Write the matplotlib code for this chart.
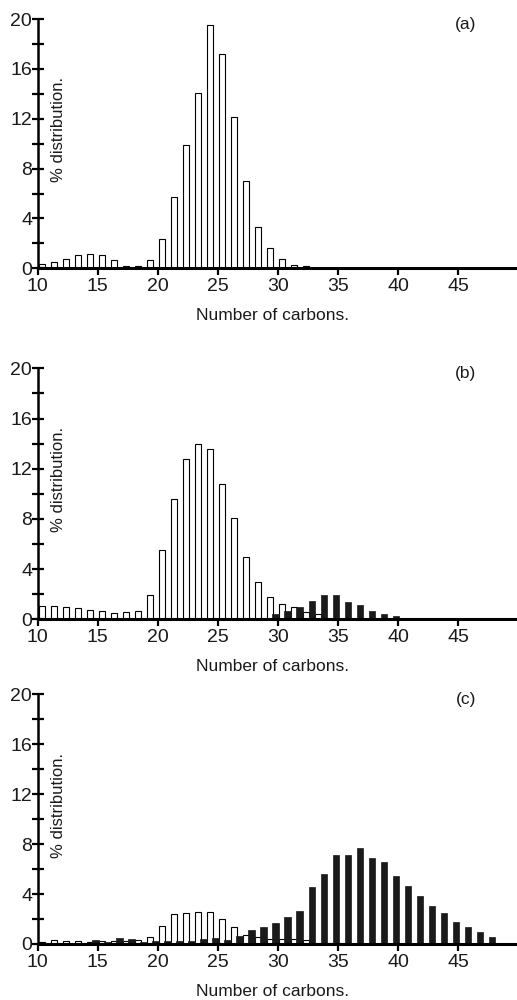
import numpy as np
import matplotlib
matplotlib.use('Agg')
import matplotlib.pyplot as plt

plt.rcParams['font.family'] = ['Liberation Sans', 'DejaVu Sans']

# carbon numbers C10 .. C48
carbons = np.arange(10, 49)

# panel (a), white bars only
white_a = [0.37, 0.53, 0.72, 1.04, 1.12, 1.10, 0.67, 0.19, 0.21, 0.64,
           2.33, 5.7, 9.9, 14.1, 19.5, 17.2, 12.1, 7.0, 3.35, 1.63,
           0.72, 0.29, 0.18, 0.05, 0.04, 0, 0, 0, 0, 0,
           0, 0, 0, 0, 0, 0, 0, 0, 0]
black_a = [0] * 39

# panel (b)
white_b = [1.06, 1.04, 0.98, 0.93, 0.72, 0.64, 0.48, 0.56, 0.66, 1.94,
           5.5, 9.6, 12.75, 13.97, 13.57, 10.78, 8.1, 5.0, 2.97, 1.77,
           1.25, 0.98, 0.58, 0.4, 0, 0, 0, 0, 0, 0,
           0, 0, 0, 0, 0, 0, 0, 0, 0]
black_b = [0, 0, 0, 0, 0, 0, 0, 0, 0, 0,
           0, 0, 0, 0, 0, 0, 0, 0, 0, 0,
           0.45, 0.64, 0.98, 1.45, 1.95, 1.95, 1.4, 1.1, 0.68, 0.42,
           0.24, 0, 0, 0, 0, 0, 0, 0, 0]

# panel (c)
white_c = [0.19, 0.35, 0.24, 0.24, 0.18, 0.22, 0.24, 0.25, 0.35, 0.6,
           1.47, 2.38, 2.51, 2.59, 2.54, 1.98, 1.39, 0.69, 0.59, 0.37,
           0.37, 0.42, 0.3, 0.12, 0.1, 0.08, 0, 0, 0, 0,
           0, 0, 0, 0, 0, 0, 0, 0, 0]
black_c = [0.1, 0.1, 0.1, 0.1, 0.12, 0.32, 0.2, 0.5, 0.37, 0.19,
           0.27, 0.21, 0.27, 0.24, 0.4, 0.48, 0.29, 0.67, 1.15, 1.39,
           1.66, 2.14, 2.64, 4.54, 5.58, 7.13, 7.13, 7.66, 6.92, 6.54,
           5.45, 4.65, 3.87, 3.04, 2.46, 1.76, 1.34, 0.93, 0.53]

panel_labels = ['(a)', '(b)', '(c)']
x_ticks = [10, 15, 20, 25, 30, 35, 40, 45]
y_ticks = [0, 4, 8, 12, 16, 20]
y_minor = [2, 6, 10, 14, 18]

text_col = '#1a1a1a'


def plot_panel(ax, white, black, label, h_px):
	white = np.array(white, dtype=float)
	black = np.array(black, dtype=float)

	# white bar sits just right of the carbon number, black bar just left
	mw = white > 0
	ax.bar(carbons[mw] + 0.33, white[mw], 0.52, color='white', edgecolor='black', linewidth=0.8, zorder=1)
	mb = black > 0
	ax.bar(carbons[mb] - 0.2, black[mb], 0.55, color='#1a1a1a', edgecolor='#1a1a1a', linewidth=0.5, zorder=1)

	ax.set_xlim(10, 49.7)
	ax.set_ylim(0, 20)

	for side in ['top', 'right']:
		ax.spines[side].set_visible(False)
	ax.spines['left'].set_linewidth(1.8)
	ax.spines['bottom'].set_linewidth(2.2)
	ax.spines['left'].set_zorder(3)
	ax.spines['bottom'].set_zorder(3)

	ax.set_xticks(x_ticks)
	ax.set_yticks(y_ticks)
	ax.set_yticks(y_minor, minor=True)
	ax.tick_params(axis='y', which='both', direction='inout', length=8, width=1.6,
		labelsize=14, pad=0, labelcolor=text_col)
	ax.tick_params(axis='x', direction='out', length=5, width=1.6, labelsize=14,
		pad=2, labelcolor=text_col)

	# axis titles placed by pixel offsets from the axes
	ax.text(0.493, -47.0 / h_px, 'Number of carbons.', transform=ax.transAxes,
		ha='center', va='center', fontsize=12.5, color=text_col)
	ax.text(0.043, 0.555, '% distribution.', transform=ax.transAxes, rotation=90,
		ha='center', va='center', fontsize=12, color=text_col)
	ax.text(0.897, 0.978, label, transform=ax.transAxes, ha='center', va='center',
		fontsize=12.5, color=text_col)


def main():
	fig = plt.figure(figsize=(5.17, 10.0), dpi=100)

	left = 37.7 / 517
	width = (515 - 37.7) / 517
	# (bottom, height) in figure fraction for each panel
	boxes = [(0.7317, 0.2493), (0.3807, 0.2510), (0.0560, 0.2497)]
	whites = [white_a, white_b, white_c]
	blacks = [black_a, black_b, black_c]

	for i in range(3):
		ax = fig.add_axes([left, boxes[i][0], width, boxes[i][1]])
		plot_panel(ax, whites[i], blacks[i], panel_labels[i], boxes[i][1] * 1000)

	fig.savefig('out.png', dpi=100)
	plt.close()


if __name__ == '__main__':
	main()
